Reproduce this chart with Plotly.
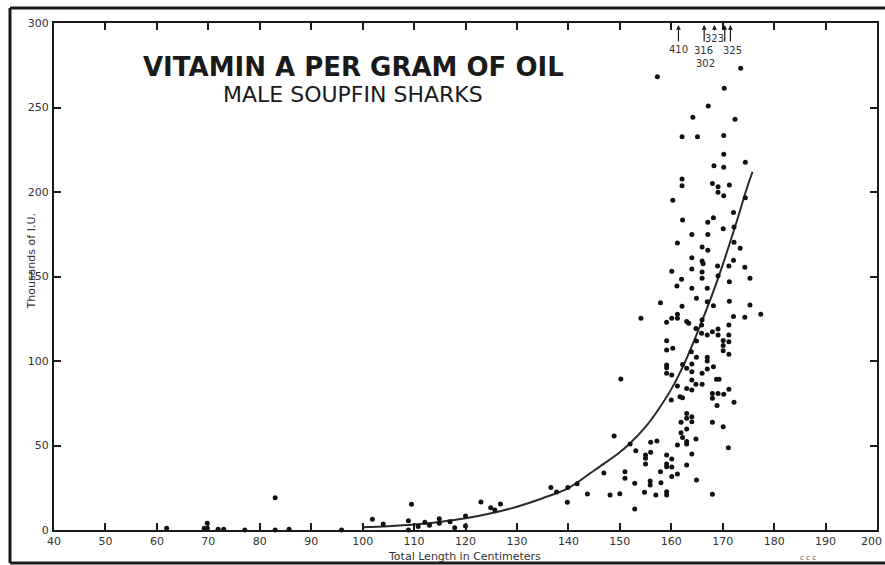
import plotly.graph_objects as go

# Total length (cm) and vitamin A potency (thousands of I.U. per gram of oil)
length_cm = [
    61.9, 69.2, 69.8, 69.8, 71.9, 73.0, 77.1, 83.0, 83.0, 85.7, 95.9,
    101.9, 104.0, 108.9, 108.9, 109.5, 110.8, 112.1, 113.0, 114.9, 114.9, 117.0, 117.9, 120.0, 120.0,
    123.0, 124.9, 125.7, 126.8,
    136.6, 137.7, 139.8, 139.9, 141.7, 143.7, 146.9, 148.1, 148.9, 150.0, 150.2,
    151.0, 151.0, 152.0, 152.9, 152.9, 153.1, 154.8, 155.0, 155.0, 155.0, 155.9, 155.9, 156.0, 156.0,
    157.0, 157.2, 157.9, 158.0, 159.1, 159.1, 159.1, 159.1, 159.1, 159.1, 159.1, 159.1, 160.0, 160.1,
    160.1, 160.1, 160.1, 161.2, 161.2, 161.2, 161.7, 161.9, 161.9, 162.2, 162.2, 162.2, 163.0, 163.0,
    163.0, 163.0, 163.0, 163.0, 163.0, 163.0, 164.0, 164.0, 164.0, 164.0, 164.0, 164.0, 164.0, 164.8,
    164.8, 164.9, 166.0, 166.0, 167.0, 167.0, 168.0, 168.0, 168.0, 168.0, 168.2, 168.8, 169.3, 168.9,
    169.1, 170.1, 170.2, 171.1, 171.2, 172.2,
    164.9, 167.0, 171.2, 163.9, 170.1, 159.1, 160.3, 170.1, 171.2, 164.9, 159.1, 170.1, 167.0, 169.1,
    171.2, 165.9, 168.0, 169.1, 164.8, 165.9, 171.2, 163.4, 159.1, 163.0, 166.0, 154.1, 160.1, 161.2,
    174.3, 172.1, 161.2, 177.4, 162.1, 168.2, 175.3, 157.9, 167.0, 171.3, 164.9, 164.0, 167.0, 161.1,
    171.3, 162.0, 166.0, 175.3, 169.1, 166.0, 160.1, 164.0, 174.3, 169.0, 171.2, 166.2, 166.0, 172.1,
    164.0, 167.1, 173.4, 166.0, 161.2, 172.2, 164.0, 167.1, 170.1, 172.2, 162.2, 167.1, 168.2, 172.1,
    160.3, 174.4, 170.2, 169.1,
    162.1, 162.1, 168.0, 169.1, 171.3, 168.3, 170.2, 174.4, 170.2, 162.1, 165.1, 170.2, 164.2, 172.4,
    167.2, 170.3, 157.3, 173.5,
]
vitamin_a = [
    1.0, 1.0, 4.0, 1.0, 0.4, 0.4, 0.0, 19.1, 0.0, 0.4, 0.0,
    6.3, 3.6, 5.5, 0.0, 15.2, 2.0, 4.6, 2.8, 6.7, 4.0, 4.9, 1.4, 8.3, 2.4,
    16.6, 13.2, 11.8, 15.4,
    25.2, 22.5, 16.4, 25.2, 27.4, 21.3, 33.7, 20.7, 55.6, 21.5, 89.3,
    34.5, 30.6, 50.9, 27.6, 12.4, 46.9, 22.3, 44.4, 42.4, 39.1, 29.0, 26.6, 51.9, 46.0,
    20.7, 52.7, 34.5, 28.0, 97.6, 96.0, 92.7, 44.4, 39.1, 37.5, 22.7, 20.7, 76.9, 91.7,
    42.0, 37.3, 31.6, 85.2, 50.3, 33.1, 78.9, 63.7, 57.6, 98.0, 78.3, 54.8, 95.7, 83.8,
    69.0, 66.1, 59.8, 52.3, 50.9, 38.5, 98.2, 93.7, 88.8, 82.8, 67.0, 64.1, 45.0, 86.2,
    53.8, 29.6, 92.7, 86.2, 100.0, 95.3, 80.7, 77.9, 63.7, 21.1, 96.6, 89.2, 89.2, 73.6,
    80.7, 61.1, 80.3, 48.7, 83.3, 75.6,
    102.2, 102.2, 104.0, 105.5, 106.1, 106.5, 107.5, 109.1, 111.4, 111.8, 112.0, 112.2, 115.4, 115.4,
    115.4, 116.4, 117.3, 118.9, 119.3, 121.3, 121.3, 122.3, 122.9, 123.3, 124.4, 125.3, 125.3, 125.3,
    125.9, 126.4, 127.6, 127.6, 132.4, 132.7, 133.1, 134.5, 135.1, 135.3, 137.1, 143.0, 143.0, 144.4,
    146.9, 148.3, 148.9, 148.9, 150.5, 152.7, 153.1, 154.4, 155.4, 156.2, 156.2, 157.6, 159.2, 159.6,
    161.1, 165.5, 166.7, 167.5, 169.8, 170.2, 174.8, 174.8, 178.3, 179.3, 183.4, 182.1, 184.8, 187.8,
    195.1, 196.6, 197.8, 199.8,
    207.7, 203.7, 205.1, 203.1, 204.1, 215.6, 214.6, 217.6, 222.3, 232.7, 232.7, 233.5, 244.2, 243.0,
    250.9, 261.4, 268.2, 273.2,
]

# Fitted trend curve
curve_len = [100, 105, 110, 115, 120, 125, 130, 135, 140, 144.2, 146.1, 150, 152, 155,
             157.2, 160.1, 163, 166.2, 169.1, 172.1, 174.7, 175.8]
curve_val = [1.6, 2.2, 3.2, 4.8, 6.9, 9.9, 13.8, 18.8, 24.8, 33.5, 37.5, 46.0, 51.3, 61.0,
             70.0, 83.8, 101.6, 125.3, 148.9, 176.5, 202.2, 212.0]

# Fish whose potency falls above the top of the scale
off_len = [161.4, 166.4, 170.4, 168.4, 171.5]
off_val = [410, 316, 302, 323, 325]

x_ticks = list(range(40, 201, 10))
y_ticks = list(range(0, 301, 50))

INK = "#1a1a1a"
FONT = "DejaVu Sans"
TICK_FONT = dict(family=FONT, size=11, color="#333333")

fig = go.Figure()
fig.add_trace(go.Scatter(
    x=curve_len, y=curve_val, mode="lines", line_shape="spline",
    line=dict(color="#2a2a2a", width=2), hoverinfo="skip", showlegend=False,
))
fig.add_trace(go.Scatter(
    x=length_cm, y=vitamin_a, mode="markers",
    marker=dict(color="#111111", size=5), cliponaxis=False, showlegend=False,
))

axis_common = dict(
    showline=True, linecolor=INK, linewidth=2, mirror="ticks",
    ticks="inside", ticklen=7, tickwidth=1.5, tickcolor=INK,
    showgrid=False, zeroline=False, automargin=False,
    tickfont=TICK_FONT,
)
# the last x label sits against the page edge, so it is drawn right-aligned below
x_text = [str(v) for v in x_ticks[:-1]] + [""]
fig.update_xaxes(range=[40, 200], tickvals=x_ticks, ticktext=x_text,
                 ticklabelstandoff=0, **axis_common)
fig.update_yaxes(range=[0, 300], tickvals=y_ticks, ticktext=[str(v) for v in y_ticks],
                 ticklabelstandoff=1, **axis_common)

annotations = [
    dict(text=str(x_ticks[-1]), x=x_ticks[-1], xref="x", y=0, yref="paper",
         xanchor="right", yanchor="top", xshift=7, yshift=-3, showarrow=False,
         font=TICK_FONT),
    dict(text="<b>VITAMIN A PER GRAM OF OIL</b>", xref="paper", yref="paper",
         x=(353 - 54) / 823, y=(530 - 67) / 507, yanchor="middle", showarrow=False,
         font=dict(family=FONT, size=26, color=INK)),
    dict(text="MALE SOUPFIN SHARKS", xref="paper", yref="paper",
         x=(353 - 54) / 823, y=(530 - 95) / 507, yanchor="middle", showarrow=False,
         font=dict(family=FONT, size=22, color=INK)),
    dict(text="Total Length in Centimeters", xref="paper", yref="paper",
         x=(464 - 54) / 823, y=(530 - 556) / 507, yanchor="middle", showarrow=False,
         font=dict(family=FONT, size=11, color="#333333")),
    dict(text="Thousands of I.U.", xref="paper", yref="paper", textangle=-90,
         x=(22 - 54) / 823, y=(530 - 262) / 507, showarrow=False,
         font=dict(family=FONT, size=11, color="#333333")),
    dict(text="c c c", xref="paper", yref="paper",
         x=(818 - 54) / 823, y=(530 - 558) / 507, yanchor="middle", showarrow=False,
         font=dict(family=FONT, size=7, color="#444444")),
]

# Upward arrows and values for the off-scale fish
arrow_tail = [20, 20, 20, 9, 20]
label_dx = [0, -1, -19, 0, 2]
label_dy = [-26, -27, -40, -15, -27]
for xv, val, tail, dx, dy in zip(off_len, off_val, arrow_tail, label_dx, label_dy):
    annotations.append(dict(
        x=xv, y=300, xref="x", yref="y", text="", showarrow=True,
        ax=0, ay=tail, arrowhead=2, arrowsize=0.8, arrowwidth=1.2, arrowcolor=INK,
        standoff=2,
    ))
    annotations.append(dict(
        x=xv, y=300, xref="x", yref="y", text=str(val), showarrow=False,
        xshift=dx, yshift=dy, font=dict(family=FONT, size=10, color="#333333"),
    ))

# Outer frame of the figure
frame = dict(type="line", xref="paper", yref="paper", line=dict(color=INK, width=3))
shapes = [
    dict(frame, x0=(10 - 54) / 823, x1=(10 - 54) / 823, y0=(530 - 563) / 507, y1=(530 - 8) / 507),
    dict(frame, x0=(10 - 54) / 823, x1=(885 - 54) / 823, y0=(530 - 8) / 507, y1=(530 - 8) / 507),
    dict(frame, x0=(10 - 54) / 823, x1=(885 - 54) / 823, y0=(530 - 563) / 507, y1=(530 - 563) / 507),
]

fig.update_layout(
    width=885, height=565,
    margin=dict(l=54, r=8, t=23, b=35, autoexpand=False),
    paper_bgcolor="white", plot_bgcolor="white",
    annotations=annotations, shapes=shapes,
    showlegend=False,
)

fig.write_html("out.html")
